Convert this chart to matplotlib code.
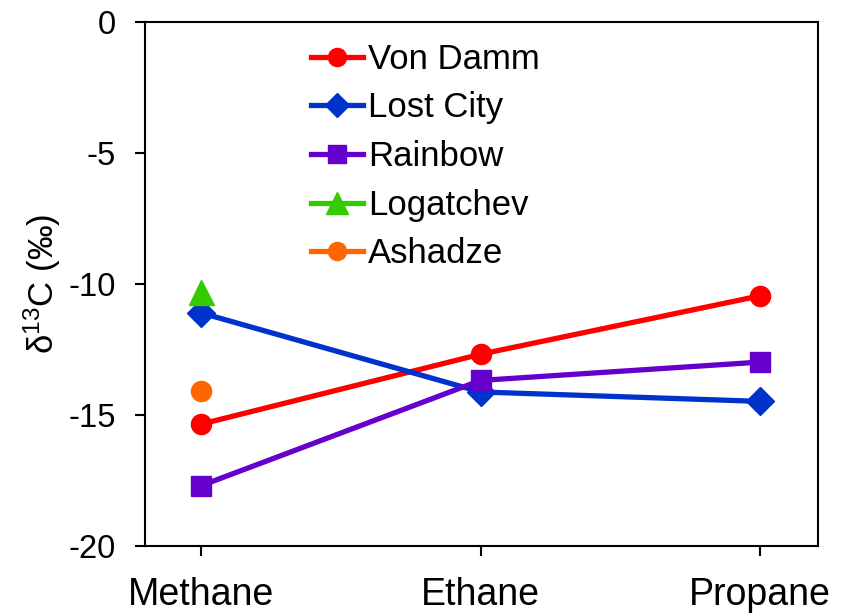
import matplotlib
matplotlib.use("Agg")
import matplotlib.pyplot as plt

plt.rcParams["font.family"] = ["Liberation Sans", "DejaVu Sans"]
plt.rcParams["mathtext.fontset"] = "custom"
plt.rcParams["mathtext.rm"] = "Liberation Sans"
plt.rcParams["mathtext.it"] = "Liberation Sans"

gases = ["Methane", "Ethane", "Propane"]
von_damm = [-15.35, -12.68, -10.45]
lost_city = [-11.1, -14.12, -14.48]
rainbow = [-17.7, -13.68, -12.98]
logatchev = [-10.3]
ashadze = [-14.08]

x = list(range(len(gases)))

fig = plt.figure(figsize=(8.65, 6.16), dpi=100)
ax = fig.add_axes([0.1676, 0.1136, 0.7781, 0.8507])

lw = 3.8
ax.plot(x, von_damm, color="#FF0000", lw=lw, marker="o", ms=14.5, label="Von Damm")
ax.plot(x, lost_city, color="#0033CC", lw=lw, marker="D", ms=14, label="Lost City")
ax.plot(x, rainbow, color="#6600CC", lw=lw, marker="s", ms=14.5, label="Rainbow")
ax.plot(x[:1], logatchev, color="#33CC00", lw=lw, marker="^", ms=18, label="Logatchev")
ax.plot(x[:1], ashadze, color="#FF6600", lw=lw, marker="o", ms=14.5, label="Ashadze")

ax.set_xlim(-0.2, 2.207)
ax.set_ylim(-20, 0)
ax.set_yticks([0, -5, -10, -15, -20])
ax.set_yticklabels(["0", "-5", "-10", "-15", "-20"])
ax.set_xticks(x)
ax.set_xticklabels(gases, fontsize=27)
ax.tick_params(axis="y", labelsize=23.5, direction="out", length=7, width=1.5, pad=14)
ax.tick_params(axis="x", direction="out", length=7, width=1.5, pad=15)
for s in ax.spines.values():
    s.set_linewidth(1.5)

ax.set_ylabel("δ$^{13}$C (‰)", fontsize=25, labelpad=4)

ax.legend(loc="upper left", bbox_to_anchor=(0.215, 1.0), frameon=False,
          fontsize=25, handlelength=1.5, handletextpad=0.15, labelspacing=0.45,
          borderaxespad=0.2, markerscale=0.9)

fig.savefig("out.png", dpi=100)
